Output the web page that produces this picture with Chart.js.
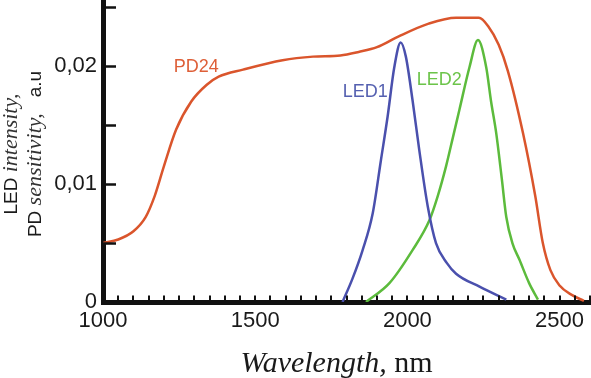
<!DOCTYPE html>
<html>
<head>
<meta charset="utf-8">
<script src="https://cdn.jsdelivr.net/npm/chart.js@4.4.1/dist/chart.umd.min.js"></script>
<style>
  html, body { margin: 0; padding: 0; background: #ffffff; }
  #wrap { width: 591px; height: 378px; position: relative; }
  canvas { display: block; }
</style>
</head>
<body>
<div id="wrap"><canvas id="c" width="591" height="378" style="width:591px;height:378px"></canvas></div>
<script>
// ---- Data ----
const pdWavelength = [1000, 1050, 1100, 1140, 1170, 1200, 1240, 1290, 1340, 1380, 1460, 1590, 1690, 1780, 1840, 1900, 1970, 2070, 2160, 2235, 2265, 2300, 2330, 2380, 2420, 2445, 2470, 2500, 2540, 2580];
const pdValues     = [0.0050, 0.0053, 0.0060, 0.0072, 0.0090, 0.0115, 0.0146, 0.0170, 0.0184, 0.0191, 0.0197, 0.0205, 0.0208, 0.0209, 0.0212, 0.0216, 0.0225, 0.0236, 0.0241, 0.0241, 0.0234, 0.0218, 0.0196, 0.0143, 0.0090, 0.0050, 0.0027, 0.0014, 0.0006, 0.0001];

const led1Wavelength = [1787, 1820, 1853, 1886, 1913, 1935, 1957, 1978, 1995, 2017, 2039, 2067, 2094, 2130, 2160, 2237, 2325];
const led1Values     = [0.0000, 0.0020, 0.0044, 0.0075, 0.0120, 0.0157, 0.0199, 0.0220, 0.0208, 0.0171, 0.0129, 0.0081, 0.0050, 0.0033, 0.0024, 0.0013, 0.0002];

const led2Wavelength = [1864, 1941, 2017, 2072, 2100, 2127, 2150, 2171, 2204, 2232, 2259, 2275, 2292, 2310, 2325, 2345, 2368, 2400, 2429];
const led2Values     = [0.0000, 0.0016, 0.0044, 0.0069, 0.0090, 0.0115, 0.0140, 0.0163, 0.0199, 0.0222, 0.0199, 0.0170, 0.0143, 0.0105, 0.0072, 0.0050, 0.0036, 0.0016, 0.0002];

const seriesNames      = ['PD24', 'LED1', 'LED2'];
const labelWavelengths = [1306, 1862, 2105];
const labelValues      = [0.0199, 0.0178, 0.0188];

const xTickValues = [1000, 1500, 2000, 2500];
const xTickLabels = ['1000', '1500', '2000', '2500'];
const yTickValues = [0, 0.01, 0.02];
const yTickLabels = ['0', '0,01', '0,02'];
const yMarkValues = [0.005, 0.01, 0.015, 0.02, 0.025];
const xMarkStep = 50;

const colors = { pd: '#da552c', led1: '#4a50ad', led2: '#5cbb3c' };
const labelColors = ['#de5f38', '#5560b0', '#6cc44a'];

function toPoints(xs, ys) { return xs.map((x, i) => ({ x: x, y: ys[i] })); }

const decorPlugin = {
  id: 'decor',
  afterDraw(chart) {
    const ctx = chart.ctx;
    const xs = chart.scales.x, ys = chart.scales.y;
    const area = chart.chartArea;
    ctx.save();
    // inward tick marks
    ctx.strokeStyle = '#111';
    ctx.lineWidth = 2.5;
    ctx.beginPath();
    for (const v of yMarkValues) {
      const py = Math.round(ys.getPixelForValue(v)) + 0.5;
      ctx.moveTo(area.left, py);
      ctx.lineTo(area.left + 13, py);
    }
    ctx.stroke();
    ctx.lineWidth = 2;
    ctx.beginPath();
    for (let v = xs.min + xMarkStep; v <= xs.max; v += xMarkStep) {
      const px = Math.round(xs.getPixelForValue(v));
      ctx.moveTo(px, area.bottom);
      ctx.lineTo(px, area.bottom - 6.5);
    }
    ctx.stroke();

    // series labels
    ctx.font = '18px "Liberation Sans", Arial, sans-serif';
    ctx.textAlign = 'center';
    ctx.textBaseline = 'middle';
    seriesNames.forEach((n, i) => {
      ctx.fillStyle = labelColors[i];
      ctx.fillText(n, xs.getPixelForValue(labelWavelengths[i]), ys.getPixelForValue(labelValues[i]));
    });

    // x axis title (mixed fonts)
    ctx.textAlign = 'left';
    ctx.textBaseline = 'alphabetic';
    ctx.fillStyle = '#1a1a1a';
    const fI = 'italic 30px "Liberation Serif", "Times New Roman", serif';
    const fR = '30px "Liberation Serif", "Times New Roman", serif';
    const p1 = 'Wavelength,', p2 = ' nm';
    ctx.font = fI; const w1 = ctx.measureText(p1).width;
    ctx.font = fR; const w2 = ctx.measureText(p2).width;
    const cx = (area.left + area.right) / 2 - 10;
    let sx = cx - (w1 + w2) / 2;
    const by = 372;
    ctx.font = fI; ctx.fillText(p1, sx, by);
    ctx.font = fR; ctx.fillText(p2, sx + w1, by);

    // y axis title (two rotated lines, mixed fonts)
    const cy = (area.top + area.bottom) / 2 + 3;
    const sans = '19px "Liberation Sans", Arial, sans-serif';
    const ital = 'italic 22px "Liberation Serif", "Times New Roman", serif';
    const lines = [
      { x: 17, parts: [['LED ', sans, '#1a1a1a'], ['intensity,', ital, '#333']] },
      { x: 41, parts: [['PD ', sans, '#1a1a1a'], ['sensitivity,', ital, '#333'], ['   a.u', sans, '#1a1a1a']] }
    ];
    for (const ln of lines) {
      let total = 0;
      const widths = ln.parts.map(p => { ctx.font = p[1]; const w = ctx.measureText(p[0]).width; total += w; return w; });
      ctx.save();
      ctx.translate(ln.x, cy);
      ctx.rotate(-Math.PI / 2);
      let px = -total / 2;
      ln.parts.forEach((p, i) => {
        ctx.font = p[1]; ctx.fillStyle = p[2];
        ctx.fillText(p[0], px, 0);
        px += widths[i];
      });
      ctx.restore();
    }
    ctx.restore();
  }
};

const commonLine = { fill: false, pointRadius: 0, borderWidth: 2.5, cubicInterpolationMode: 'monotone' };

new Chart(document.getElementById('c'), {
  type: 'line',
  data: {
    datasets: [
      Object.assign({ label: seriesNames[0], data: toPoints(pdWavelength, pdValues), borderColor: colors.pd }, commonLine),
      Object.assign({ label: seriesNames[1], data: toPoints(led1Wavelength, led1Values), borderColor: colors.led1 }, commonLine),
      Object.assign({ label: seriesNames[2], data: toPoints(led2Wavelength, led2Values), borderColor: colors.led2 }, commonLine)
    ]
  },
  options: {
    responsive: false,
    animation: false,
    devicePixelRatio: 1,
    layout: { padding: { left: 0, right: 1, top: 0, bottom: 0 } },
    plugins: { legend: { display: false }, tooltip: { enabled: false } },
    scales: {
      x: {
        type: 'linear',
        min: 1000,
        max: 2600,
        afterFit(s) { s.height = 76; s.paddingLeft = 0; s.paddingRight = 0; },
        afterBuildTicks(s) { s.ticks = xTickValues.map(v => ({ value: v })); },
        ticks: {
          callback: (v) => xTickLabels[xTickValues.indexOf(v)],
          font: { family: '"Liberation Sans", Arial, sans-serif', size: 22 },
          color: '#1a1a1a',
          padding: 6,
          maxRotation: 0,
          autoSkip: false
        },
        grid: { display: true, drawOnChartArea: false, drawTicks: false },
        border: { display: true, width: 5, color: '#111' }
      },
      y: {
        type: 'linear',
        min: 0,
        max: 0.0256,
        afterFit(s) { s.width = 103; s.paddingTop = 0; s.paddingBottom = 0; },
        afterBuildTicks(s) { s.ticks = yTickValues.map(v => ({ value: v })); },
        ticks: {
          callback: (v) => yTickLabels[yTickValues.indexOf(v)],
          font: { family: '"Liberation Sans", Arial, sans-serif', size: 22 },
          color: '#1a1a1a',
          padding: 6,
          autoSkip: false
        },
        grid: { display: true, drawOnChartArea: false, drawTicks: false },
        border: { display: true, width: 5, color: '#111' }
      }
    }
  },
  plugins: [decorPlugin]
});
</script>
</body>
</html>
